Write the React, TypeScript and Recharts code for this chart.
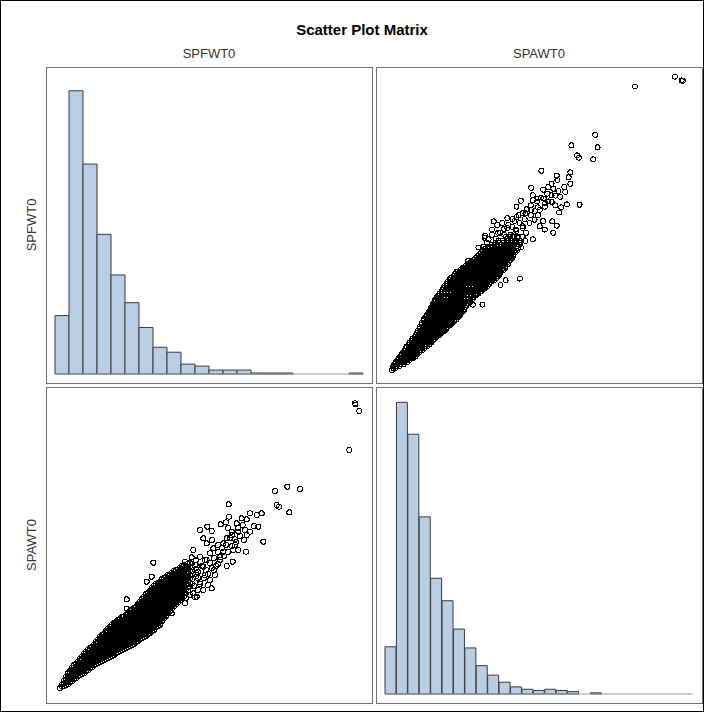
import React from "react";
import {
  BarChart,
  Bar,
  ScatterChart,
  Scatter,
  XAxis,
  YAxis,
  ReferenceLine,
} from "recharts";

// histogram of SPFWT0 (bin start, percent of obs)
const spfwtBins = [
  "100", "380", "660", "940", "1220", "1500", "1780", "2060", "2340", "2620", "2900",
  "3180", "3460", "3740", "4020", "4300", "4580", "4860", "5140", "5420", "5700", "5980",
];
const spfwtPct = [
  5.9, 28.6, 21.2, 14.1, 10.0, 7.2, 4.7, 2.7, 2.2, 1.0, 0.8, 0.4, 0.4, 0.4, 0.1, 0.1,
  0.1, 0, 0, 0, 0, 0.1,
];

// histogram of SPAWT0
const spawtBins = [
  "0", "225", "450", "675", "900", "1125", "1350", "1575", "1800", "2025", "2250",
  "2475", "2700", "2925", "3150", "3375", "3600", "3825", "4050", "4275", "4500",
  "4725", "4950", "5175", "5400", "5625", "5850",
];
const spawtPct = [
  4.0, 24.7, 22.0, 15.0, 9.8, 7.9, 5.5, 3.9, 2.4, 1.6, 1.0, 0.6, 0.4, 0.3, 0.4, 0.3,
  0.2, 0, 0.1, 0, 0, 0, 0, 0, 0, 0, 0,
];

// dense part of the cloud: SPFWT0 value with the SPAWT0 values seen at it
const coreColumns: [number, number[]][] = [
  [200, [140]],
  [280, [170, 230, 290]],
  [360, [210, 270, 330, 390, 440]],
  [440, [270, 330, 390, 450, 510, 550]],
  [520, [330, 390, 450, 510, 570, 630]],
  [600, [390, 450, 510, 570, 630, 690, 730]],
  [680, [430, 490, 550, 610, 670, 730, 790, 830]],
  [760, [490, 550, 610, 670, 730, 790, 850, 910]],
  [840, [550, 610, 670, 730, 790, 850, 910, 970]],
  [920, [610, 670, 730, 790, 850, 910, 970, 1030, 1070]],
  [1000, [650, 710, 770, 830, 890, 950, 1010, 1070, 1130, 1170]],
  [1080, [690, 750, 810, 870, 930, 990, 1050, 1110, 1170, 1230]],
  [1160, [730, 790, 850, 910, 970, 1030, 1090, 1150, 1210, 1270, 1330]],
  [1240, [770, 830, 890, 950, 1010, 1070, 1130, 1190, 1250, 1310, 1370, 1410]],
  [1320, [830, 890, 950, 1010, 1070, 1130, 1190, 1250, 1310, 1370, 1430, 1470]],
  [1400, [870, 930, 990, 1050, 1110, 1170, 1230, 1290, 1350, 1410, 1470, 1530]],
  [1480, [910, 970, 1030, 1090, 1150, 1210, 1270, 1330, 1390, 1450, 1510, 1570]],
  [1560, [950, 1010, 1070, 1130, 1190, 1250, 1310, 1370, 1430, 1490, 1550, 1610, 1650]],
  [1640, [990, 1050, 1110, 1170, 1230, 1290, 1350, 1410, 1470, 1530, 1590, 1650, 1710]],
  [1720, [1050, 1110, 1170, 1230, 1290, 1350, 1410, 1470, 1530, 1590, 1650, 1710, 1770]],
  [1800, [1110, 1170, 1230, 1290, 1350, 1410, 1470, 1530, 1590, 1650, 1710, 1770, 1830, 1870]],
  [1880, [1150, 1210, 1270, 1330, 1390, 1450, 1510, 1570, 1630, 1690, 1750, 1810, 1870, 1930, 1970]],
  [1960, [1210, 1270, 1330, 1390, 1450, 1510, 1570, 1630, 1690, 1750, 1810, 1870, 1930, 1990, 2050]],
  [2040, [1270, 1330, 1390, 1450, 1510, 1570, 1630, 1690, 1750, 1810, 1870, 1930, 1990, 2050, 2110, 2150]],
  [2120, [1350, 1410, 1470, 1530, 1590, 1650, 1710, 1770, 1830, 1890, 1950, 2010, 2070, 2130, 2190, 2230]],
  [2200, [1430, 1490, 1550, 1610, 1670, 1730, 1790, 1850, 1910, 1970, 2030, 2090, 2150, 2210, 2270]],
  [2280, [1530, 1590, 1650, 1710, 1770, 1830, 1890, 1950, 2010, 2070, 2130, 2190, 2250, 2310, 2350]],
  [2360, [1630, 1690, 1750, 1810, 1870, 1930, 1990, 2050, 2110, 2170, 2230, 2290, 2350, 2410]],
  [2440, [1730, 1790, 1850, 1910, 1970, 2030, 2090, 2150, 2210, 2270, 2330, 2390, 2450]],
  [2520, [1810, 1870, 1930, 1990, 2050, 2110, 2170, 2230, 2290, 2350, 2410, 2470, 2510]],
  [2600, [1890, 1950, 2010, 2070, 2130, 2190, 2250, 2310, 2370, 2430, 2490, 2550]],
  [2680, [1970, 2030, 2090, 2150, 2210, 2270, 2330, 2390, 2450, 2510, 2570, 2610]],
  [2760, [2090, 2150, 2210, 2270, 2330, 2390, 2450, 2510, 2570, 2630]],
  [2840, [2230, 2310, 2390, 2470, 2550, 2630]],
  [2920, [2370, 2450, 2530, 2610, 2690]],
];

// same dense part, the observations lying between the columns above
const coreColumnsMid: [number, number[]][] = [
  [240, [170, 210]],
  [320, [190, 250, 310, 370]],
  [400, [250, 310, 370, 430, 480]],
  [480, [310, 370, 430, 490, 550, 600]],
  [560, [370, 430, 490, 550, 610, 670]],
  [640, [410, 470, 530, 590, 650, 710, 770]],
  [720, [470, 530, 590, 650, 710, 770, 830, 870]],
  [800, [530, 590, 650, 710, 770, 830, 890, 940]],
  [880, [590, 650, 710, 770, 830, 890, 950, 1010]],
  [960, [630, 690, 750, 810, 870, 930, 990, 1050, 1110]],
  [1040, [680, 740, 800, 860, 920, 980, 1040, 1100, 1160, 1200]],
  [1120, [720, 780, 840, 900, 960, 1020, 1080, 1140, 1200, 1260, 1290]],
  [1200, [760, 820, 880, 940, 1000, 1060, 1120, 1180, 1240, 1300, 1360]],
  [1280, [800, 860, 920, 980, 1040, 1100, 1160, 1220, 1280, 1340, 1400, 1440]],
  [1360, [860, 920, 980, 1040, 1100, 1160, 1220, 1280, 1340, 1400, 1460, 1500]],
  [1440, [900, 960, 1020, 1080, 1140, 1200, 1260, 1320, 1380, 1440, 1500, 1560]],
  [1520, [940, 1000, 1060, 1120, 1180, 1240, 1300, 1360, 1420, 1480, 1540, 1600]],
  [1600, [980, 1040, 1100, 1160, 1220, 1280, 1340, 1400, 1460, 1520, 1580, 1640, 1680]],
  [1680, [1020, 1080, 1140, 1200, 1260, 1320, 1380, 1440, 1500, 1560, 1620, 1680, 1740]],
  [1760, [1080, 1140, 1200, 1260, 1320, 1380, 1440, 1500, 1560, 1620, 1680, 1740, 1800, 1830]],
  [1840, [1140, 1200, 1260, 1320, 1380, 1440, 1500, 1560, 1620, 1680, 1740, 1800, 1860, 1920]],
  [1920, [1180, 1240, 1300, 1360, 1420, 1480, 1540, 1600, 1660, 1720, 1780, 1840, 1900, 1960, 2020]],
  [2000, [1240, 1300, 1360, 1420, 1480, 1540, 1600, 1660, 1720, 1780, 1840, 1900, 1960, 2020, 2080]],
  [2080, [1300, 1360, 1420, 1480, 1540, 1600, 1660, 1720, 1780, 1840, 1900, 1960, 2020, 2080, 2140, 2190]],
  [2160, [1380, 1440, 1500, 1560, 1620, 1680, 1740, 1800, 1860, 1920, 1980, 2040, 2100, 2160, 2220, 2250]],
  [2240, [1480, 1540, 1600, 1660, 1720, 1780, 1840, 1900, 1960, 2020, 2080, 2140, 2200, 2260, 2320]],
  [2320, [1580, 1640, 1700, 1760, 1820, 1880, 1940, 2000, 2060, 2120, 2180, 2240, 2300, 2360]],
  [2400, [1680, 1740, 1800, 1860, 1920, 1980, 2040, 2100, 2160, 2220, 2280, 2340, 2400]],
  [2480, [1770, 1830, 1890, 1950, 2010, 2070, 2130, 2190, 2250, 2310, 2370, 2430, 2490]],
  [2560, [1850, 1910, 1970, 2030, 2090, 2150, 2210, 2270, 2330, 2390, 2450, 2510]],
  [2640, [1930, 1990, 2050, 2110, 2170, 2230, 2290, 2350, 2410, 2470, 2530, 2590]],
  [2720, [2030, 2110, 2190, 2270, 2350, 2430, 2510, 2590]],
  [2800, [2170, 2250, 2330, 2410, 2490, 2570, 2650]],
];

// scattered observations [SPFWT0, SPAWT0]
const outliers: [number, number][] = [
  [6100, 5834], [6110, 5810], [6186, 5680], [5986, 4900],
  [4500, 4080], [4746, 4166], [5000, 4120], [4534, 3800], [4580, 3766], [4786, 3654],
  [3574, 3814], [3580, 3566], [4266, 3066], [4000, 3634], [4134, 3600], [4234, 3634],
  [4080, 3380], [3834, 3534], [3934, 3514], [3414, 3414], [3520, 3454], [3734, 3434],
  [3854, 3400], [4166, 3366], [3146, 3366], [3000, 3300], [3234, 3280], [3634, 3266],
  [3766, 3266], [3900, 3300], [4000, 3266], [3934, 3200], [3534, 3134], [3700, 3114],
  [3466, 3034], [3700, 3000], [3066, 3134], [3134, 3034], [2866, 2900], [3266, 2934],
  [3666, 2900], [3766, 2900], [3920, 2866], [3466, 2866], [3200, 2834], [3000, 2766],
  [3134, 2700], [3400, 2754], [3654, 2666], [3534, 2580], [2700, 2666], [2834, 2754],
  [2900, 2600], [3066, 2566], [2934, 2500], [3234, 2134], [3066, 2100], [2934, 1966],
  [2700, 1834], [2866, 2034], [3000, 2220], [1534, 1914], [1534, 1726], [2200, 1400],
  [1934, 2266], [2034, 2366], [2066, 2646], [2434, 1634], [2900, 1954], [2800, 2400],
  [2960, 2340], [2760, 2540], [3100, 2400], [3200, 2300], [3280, 2500], [3360, 2620],
  [3160, 2200],
  [2960, 2460], [3040, 2580], [3120, 2500], [3200, 2640], [3280, 2740], [3360, 2860],
  [3440, 2940], [3520, 3000], [3080, 2340], [3160, 2420], [3240, 2540], [3320, 2580],
  [3400, 2700], [3480, 2780], [3560, 2860], [3640, 2980], [3720, 3060], [3000, 2260],
  [2880, 2180], [2960, 2100], [2800, 2000], [2720, 1940], [3300, 2400], [3100, 2700],
  [3600, 3140], [3800, 3180], [3880, 3100], [3760, 3340], [3640, 3200], [3560, 3340],
  [3240, 3100], [3360, 3000], [2920, 2700], [2760, 2340], [2660, 2200],
];

const histF = spfwtBins.map((bin, i) => ({ bin, pct: spfwtPct[i] }));
const histA = spawtBins.map((bin, i) => ({ bin, pct: spawtPct[i] }));

const points = [...coreColumns, ...coreColumnsMid]
  .flatMap(([f, as]) => as.map((a) => ({ f, a })))
  .concat(outliers.map(([f, a]) => ({ f, a })));

const BAR_FILL = "#B9CDE5";
const BAR_LINE = "#3a3a3a";
const PANEL_LINE = "#6f6f6f";

const PW = 326;
const PH = 316;

// hollow marker, drawn without smoothing like the original output
const ring = (props: any) => (
  <circle
    cx={props.cx}
    cy={props.cy}
    r={2.5}
    fill="none"
    stroke="#000"
    strokeWidth={1}
    shapeRendering="crispEdges"
  />
);

const Histogram = ({ data, max }: { data: { bin: string; pct: number }[]; max: number }) => (
  <BarChart
    width={PW}
    height={PH}
    data={data}
    margin={{ top: 0, right: 9, bottom: 9, left: 9 }}
    barCategoryGap={0}
    barGap={0}
  >
    <XAxis dataKey="bin" hide />
    <YAxis hide domain={[0, max]} />
    <ReferenceLine y={0} stroke="#9a9a9a" />
    <Bar dataKey="pct" fill={BAR_FILL} stroke={BAR_LINE} strokeWidth={1} isAnimationActive={false} />
  </BarChart>
);

const Cloud = ({
  xKey,
  yKey,
  xDomain,
  yDomain,
}: {
  xKey: string;
  yKey: string;
  xDomain: [number, number];
  yDomain: [number, number];
}) => (
  <ScatterChart width={PW} height={PH} margin={{ top: 0, right: 0, bottom: 0, left: 0 }}>
    <XAxis type="number" dataKey={xKey} domain={xDomain} hide allowDataOverflow />
    <YAxis type="number" dataKey={yKey} domain={yDomain} hide allowDataOverflow />
    <Scatter data={points} shape={ring} isAnimationActive={false} />
  </ScatterChart>
);

const panels = [
  { left: 46, top: 67 },
  { left: 376, top: 67 },
  { left: 46, top: 387 },
  { left: 376, top: 387 },
];

const font = "'Liberation Sans', Arial, sans-serif";

export default function App() {
  return (
    <div
      style={{
        position: "absolute",
        left: 0,
        top: 0,
        width: 704,
        height: 712,
        background: "#fff",
        fontFamily: font,
      }}
    >
      <svg width={704} height={712} style={{ position: "absolute", left: 0, top: 0 }}>
        <rect x={0.5} y={0.5} width={703} height={711} fill="#fff" stroke="#000" />
        <text x={362} y={35} textAnchor="middle" fontSize={15} fontWeight="bold" fill="#000">
          Scatter Plot Matrix
        </text>
        <text x={209} y={58} textAnchor="middle" fontSize={13} fill="#333">
          SPFWT0
        </text>
        <text x={539} y={58} textAnchor="middle" fontSize={13} fill="#333">
          SPAWT0
        </text>
        <text x={0} y={0} transform="translate(36,225) rotate(-90)" textAnchor="middle" fontSize={13} fill="#333">
          SPFWT0
        </text>
        <text x={0} y={0} transform="translate(36,545) rotate(-90)" textAnchor="middle" fontSize={13} fill="#333">
          SPAWT0
        </text>
        {panels.map((p, i) => (
          <rect key={i} x={p.left + 0.5} y={p.top + 0.5} width={PW} height={PH} fill="none" stroke={PANEL_LINE} />
        ))}
      </svg>
      <div style={{ position: "absolute", left: panels[0].left, top: panels[0].top }}>
        <Histogram data={histF} max={31} />
      </div>
      <div style={{ position: "absolute", left: panels[1].left, top: panels[1].top }}>
        <Cloud xKey="a" yKey="f" xDomain={[-170, 6210]} yDomain={[-65, 6384]} />
      </div>
      <div style={{ position: "absolute", left: panels[2].left, top: panels[2].top }}>
        <Cloud xKey="f" yKey="a" xDomain={[-80, 6440]} yDomain={[-160, 6160]} />
      </div>
      <div style={{ position: "absolute", left: panels[3].left, top: panels[3].top }}>
        <Histogram data={histA} max={26} />
      </div>
    </div>
  );
}
